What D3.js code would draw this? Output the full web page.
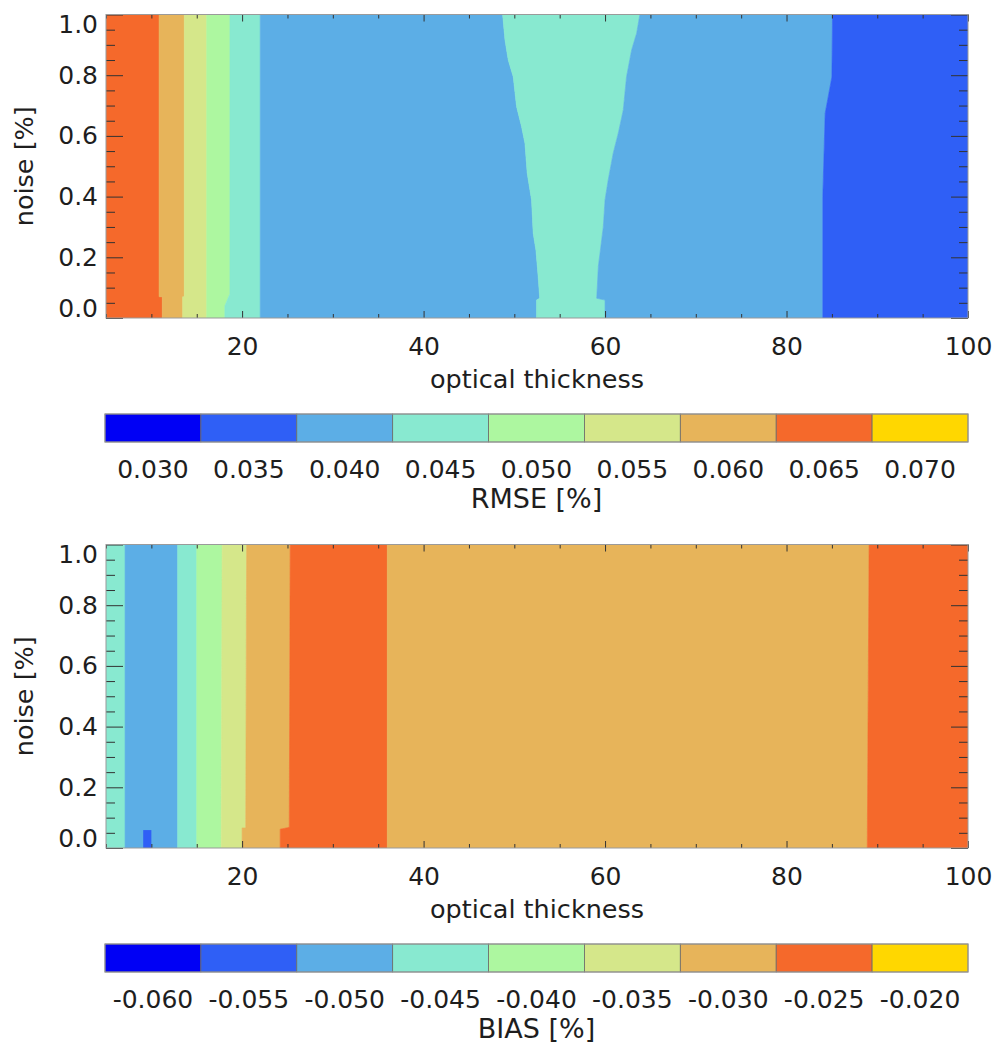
<!DOCTYPE html>
<html>
<head>
<meta charset="utf-8">
<script src="https://cdnjs.cloudflare.com/ajax/libs/d3/7.8.5/d3.min.js"></script>
<style>
    body { margin: 0; background: #fff; }
    svg text { font-family: "DejaVu Sans", sans-serif; fill: #1e1e1e; }
</style>
</head>
<body>
<div id="chart"></div>
<script>
const thicknessTicks = [20, 40, 60, 80, 100];
const noiseTicks = [0.0, 0.2, 0.4, 0.6, 0.8, 1.0];
const levelColors = ["#0000f5", "#2f5ff6", "#5caee6", "#88e9d0", "#adf7a0", "#d5e78a", "#e7b45a", "#f5692b", "#ffd700"];

const rmseLevels = [0.030, 0.035, 0.040, 0.045, 0.050, 0.055, 0.060, 0.065, 0.070];
const biasLevels = [-0.060, -0.055, -0.050, -0.045, -0.040, -0.035, -0.030, -0.025, -0.020];

// contour edges from left to right, each as [noise, optical thickness] points
const rmseEdges = [
    [[0, 5], [1, 5]],
    [[0, 11.2], [0.07, 11.2], [0.07, 10.85], [1, 10.85]],
    [[0, 13.45], [0.07, 13.45], [0.07, 13.63], [1, 13.63]],
    [[0, 16.1], [1, 16.1]],
    [[0, 18.1], [0.04, 18.1], [0.08, 18.66], [1, 18.66]],
    [[0, 22.0], [1, 22.0]],
    [[0, 52.45], [0.059, 52.45], [0.065, 52.8], [0.136, 52.63], [0.224, 52.38], [0.279, 52.08], [0.389, 51.9],
     [0.477, 51.42], [0.576, 51.17], [0.63, 50.8], [0.696, 50.25], [0.795, 49.88], [0.85, 49.33], [0.916, 48.97], [1, 48.71]],
    [[0, 60.0], [0.059, 60.0], [0.065, 59.08], [0.169, 59.26], [0.301, 59.81], [0.389, 60.0], [0.455, 60.35],
     [0.543, 60.9], [0.609, 61.46], [0.685, 62.01], [0.795, 62.37], [0.883, 62.93], [0.938, 63.48], [1, 63.84]],
    [[0, 84.0], [0.4, 84.0], [0.675, 84.26], [0.794, 85.0], [1, 85.07]],
    [[0, 100], [1, 100]]
];
const rmseBands = [0.065, 0.060, 0.055, 0.050, 0.045, 0.040, 0.045, 0.040, 0.035];
const rmseSpots = [];

const biasEdges = [
    [[0, 5], [1, 5]],
    [[0, 7.1], [1, 7.1]],
    [[0, 12.9], [1, 12.9]],
    [[0, 15.0], [1, 15.0]],
    [[0, 17.7], [1, 17.8]],
    [[0, 20.0], [0.066, 20.0], [0.066, 20.4], [1, 20.5]],
    [[0, 24.2], [0.062, 24.2], [0.068, 25.2], [1, 25.3]],
    [[0, 36.0], [1, 36.0]],
    [[0, 88.9], [0.5, 89.0], [1, 89.1]],
    [[0, 100], [1, 100]]
];
const biasBands = [-0.045, -0.050, -0.045, -0.040, -0.035, -0.030, -0.025, -0.030, -0.025];
const biasSpots = [{ level: -0.055, tau: [9.1, 10.0], noise: [0, 0.059] }];

const fmtLevel = d3.formatLocale({ decimal: ".", thousands: ",", grouping: [3], currency: ["", ""], minus: "-" }).format(".3f");

const svg = d3.select("#chart").append("svg")
    .attr("width", 997)
    .attr("height", 1046);

function drawPanel(opts) {
    const plot = { left: 106, right: 968, top: 14.5, bottom: 318 };
    const g = svg.append("g").attr("transform", `translate(0,${opts.offset})`);

    const xScale = d3.scaleLinear().domain([5, 100]).range([plot.left, plot.right]);
    const yScale = d3.scaleLinear().domain([0, 1]).range([plot.bottom, plot.top]);
    const color = d3.scaleOrdinal().domain(opts.levels).range(levelColors);

    const clipId = "clip" + opts.offset;
    g.append("clipPath").attr("id", clipId)
        .append("rect")
        .attr("x", plot.left).attr("y", plot.top)
        .attr("width", plot.right - plot.left).attr("height", plot.bottom - plot.top);

    const line = d3.line()
        .x(d => xScale(d[1]))
        .y(d => yScale(d[0]));

    const fills = g.append("g").attr("clip-path", `url(#${clipId})`);
    fills.selectAll("path")
        .data(opts.bands)
        .join("path")
        .attr("d", (level, i) => line(opts.edges[i].concat(opts.edges[i + 1].slice().reverse())) + "Z")
        .attr("fill", d => color(d))
        .attr("stroke", d => color(d))
        .attr("stroke-width", 0.6);

    fills.selectAll("rect")
        .data(opts.spots)
        .join("rect")
        .attr("x", d => xScale(d.tau[0]))
        .attr("width", d => xScale(d.tau[1]) - xScale(d.tau[0]))
        .attr("y", d => yScale(d.noise[1]))
        .attr("height", d => yScale(d.noise[0]) - yScale(d.noise[1]))
        .attr("fill", d => color(d.level));

    // ticks point inward on all four sides
    const minorX = d3.range(5, 101, 5).filter(v => !thicknessTicks.includes(v));
    const minorY = d3.range(0, 1.0001, 0.05).filter(v => Math.round(v * 100) % 20 != 0);

    const axes = [
        g.append("g").attr("transform", `translate(0,${plot.bottom})`)
            .call(d3.axisBottom(xScale).tickValues(minorX).tickSize(-4).tickFormat("")),
        g.append("g").attr("transform", `translate(0,${plot.top})`)
            .call(d3.axisTop(xScale).tickValues(minorX).tickSize(-4).tickFormat("")),
        g.append("g").attr("transform", `translate(0,${plot.top})`)
            .call(d3.axisTop(xScale).tickValues(thicknessTicks).tickSize(-7).tickFormat("")),
        g.append("g").attr("transform", `translate(${plot.left},0)`)
            .call(d3.axisLeft(yScale).tickValues(minorY).tickSize(-9).tickFormat("")),
        g.append("g").attr("transform", `translate(${plot.right},0)`)
            .call(d3.axisRight(yScale).tickValues(minorY).tickSize(-9).tickFormat("")),
        g.append("g").attr("transform", `translate(${plot.right},0)`)
            .call(d3.axisRight(yScale).tickValues(noiseTicks).tickSize(-17).tickFormat(""))
    ];

    const xAxis = g.append("g").attr("transform", `translate(0,${plot.bottom})`)
        .call(d3.axisBottom(xScale).tickValues(thicknessTicks).tickSize(-7).tickPadding(19).tickFormat(d3.format("d")));
    const yAxis = g.append("g").attr("transform", `translate(${plot.left},0)`)
        .call(d3.axisLeft(yScale).tickValues(noiseTicks).tickSize(-17).tickPadding(8).tickFormat(d3.format(".1f")));
    axes.push(xAxis, yAxis);

    axes.forEach(a => {
        a.select(".domain").remove();
        a.selectAll(".tick line").attr("stroke", "#333");
        a.attr("font-size", 25).attr("font-family", null);
    });
    yAxis.selectAll(".tick text")
        .attr("transform", d => d == 0 ? "translate(0,-10)" : d == 1 ? "translate(0,10)" : null);

    g.append("rect")
        .attr("x", plot.left).attr("y", plot.top)
        .attr("width", plot.right - plot.left).attr("height", plot.bottom - plot.top)
        .attr("fill", "none")
        .attr("stroke", "#9a9a9a");

    g.append("text")
        .attr("x", (plot.left + plot.right) / 2)
        .attr("y", 388)
        .attr("text-anchor", "middle")
        .attr("font-size", 25.5)
        .text("optical thickness");

    g.append("text")
        .attr("transform", `translate(33,${(plot.top + plot.bottom) / 2}) rotate(-90)`)
        .attr("text-anchor", "middle")
        .attr("font-size", 25.5)
        .text("noise [%]");

    // colour bar
    const barScale = d3.scaleBand().domain(opts.levels).range([105, 968]);
    const bar = g.append("g");
    bar.selectAll("rect")
        .data(opts.levels)
        .join("rect")
        .attr("x", d => barScale(d))
        .attr("y", 414)
        .attr("width", barScale.bandwidth())
        .attr("height", 28)
        .attr("fill", d => color(d))
        .attr("stroke", "#6a6a6a")
        .attr("stroke-width", 0.8);
    bar.append("rect")
        .attr("x", 105).attr("y", 414)
        .attr("width", 968 - 105).attr("height", 28)
        .attr("fill", "none")
        .attr("stroke", "#9a9a9a");
    bar.selectAll("text.level")
        .data(opts.levels)
        .join("text")
        .attr("class", "level")
        .attr("x", d => barScale(d) + barScale.bandwidth() / 2)
        .attr("y", 478)
        .attr("text-anchor", "middle")
        .attr("font-size", 25)
        .text(fmtLevel);
    bar.append("text")
        .attr("x", (105 + 968) / 2)
        .attr("y", 508)
        .attr("text-anchor", "middle")
        .attr("font-size", 27)
        .text(opts.title);
}

drawPanel({ offset: 0, levels: rmseLevels, edges: rmseEdges, bands: rmseBands, spots: rmseSpots, title: "RMSE [%]" });
drawPanel({ offset: 530, levels: biasLevels, edges: biasEdges, bands: biasBands, spots: biasSpots, title: "BIAS [%]" });
</script>
</body>
</html>
